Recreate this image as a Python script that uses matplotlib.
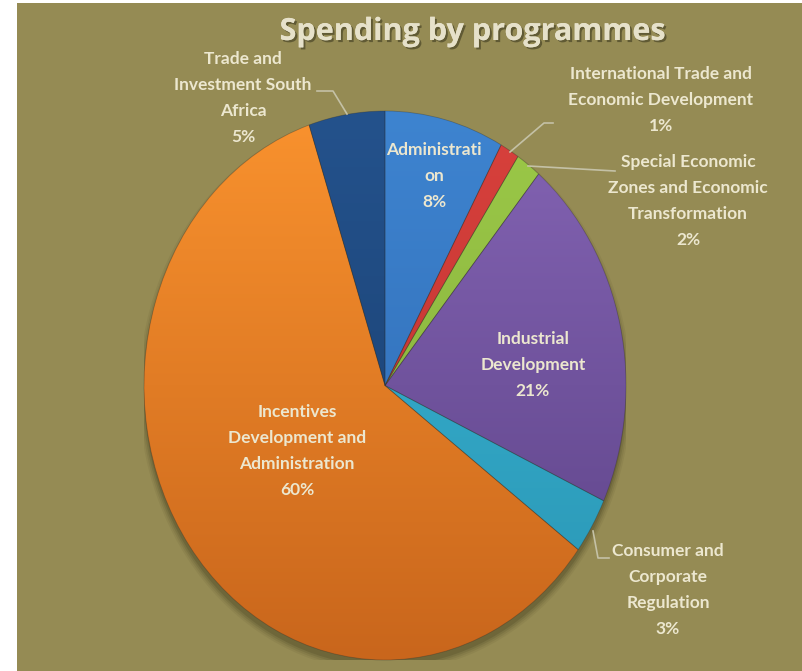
import numpy as np
import matplotlib.pyplot as plt
from matplotlib.patches import Ellipse
from matplotlib.colors import to_rgb
import matplotlib.patheffects as pe

plt.rcParams['font.family'] = ['Lato', 'DejaVu Sans']

# data
programmes = ['Administrati\non', 'International Trade and\nEconomic Development',
              'Special Economic\nZones and Economic\nTransformation',
              'Industrial\nDevelopment', 'Consumer and\nCorporate\nRegulation',
              'Incentives\nDevelopment and\nAdministration',
              'Trade and\nInvestment South\nAfrica']
shares = [8.0, 1.3, 1.7, 20.9, 3.3, 59.7, 5.1]
top_cols = ['#3E84D0', '#D8413C', '#9CC948', '#8464B4', '#3AB6D6', '#F9922E', '#24528C']
bot_cols = ['#2D68B0', '#B83030', '#80A93A', '#5C4286', '#2A96B4', '#C9661C', '#183E6E']

bg = '#958B54'
txt = '#ECE7CF'

W, H = 802, 671
fig = plt.figure(figsize=(W/100, H/100), dpi=100, facecolor='white')

# olive panel
bgax = fig.add_axes([17/W, 0, 1 - 17/W, 668/H], zorder=-5)
bgax.set_facecolor(bg)
bgax.set_xticks([]); bgax.set_yticks([])
for s in bgax.spines.values():
    s.set_visible(False)

# pie box in pixels: x 144..626, y 111..660
ax = fig.add_axes([144/W, (H-660)/H, 482/W, 549/H])
ax.patch.set_visible(False)

# shadow
for k, a in enumerate([0.08, 0.10, 0.14, 0.2]):
    ax.add_patch(Ellipse((0, -0.022), 2.0 + 0.014*(3-k), 2.0 + 0.014*(3-k),
                         facecolor='#3E3818', edgecolor='none', alpha=a, zorder=0))

wedges, _ = ax.pie(shares, startangle=90, counterclock=False, radius=1,
                   wedgeprops=dict(edgecolor='none'))

yy = np.linspace(1, 0, 256)[:, None]
for w, c1, c2 in zip(wedges, top_cols, bot_cols):
    c1 = np.array(to_rgb(c1)); c2 = np.array(to_rgb(c2))
    grad = (c1[None, None, :] * yy[..., None] + c2[None, None, :] * (1 - yy[..., None]))
    grad = np.repeat(grad, 4, axis=1)
    w.set_facecolor(c2)
    im = ax.imshow(grad, extent=[-1, 1, -1, 1], aspect='auto', zorder=2,
                   interpolation='bilinear')
    im.set_clip_path(w)
ax.set_aspect('auto')
ax.set_xlim(-1, 1)
ax.set_ylim(-1, 1)
ax.axis('off')

# thin separators between slices
for w in wedges:
    w.set_edgecolor((0.15, 0.15, 0.15, 0.3))
    w.set_linewidth(0.6)
    w.set_zorder(3)
    w.set_facecolor('none')


def fx(x):
    return x / W


def fy(y):
    return 1 - y / H


labels = ['%s\n%d%%' % (p, round(v)) for p, v in zip(programmes, shares)]
# label centres in pixels
label_pos = [(434, 176), (661, 100), (688, 201), (533, 365), (668, 590), (297, 451), (243, 98)]
for lab, (x, y) in zip(labels, label_pos):
    fig.text(fx(x), fy(y), lab, ha='center', va='center', color=txt, fontsize=12.5,
             fontweight='bold', linespacing=1.75)

# leader lines
leaders = [
    [(510, 152), (544, 123), (553, 123)],
    [(528, 166), (615, 171)],
    [(593, 531), (598, 558), (609, 558)],
    [(347, 114), (333, 91), (317, 91)],
]
for pts in leaders:
    xs = [fx(p[0]) for p in pts]
    ys = [fy(p[1]) for p in pts]
    fig.add_artist(plt.Line2D(xs, ys, color='#C4C1A6', lw=1.2, transform=fig.transFigure))

fig.text(fx(472), fy(32), 'Spending by programmes', ha='center', va='center', color='#E6E1CA',
         fontsize=22, fontweight='bold', family=['Open Sans', 'DejaVu Sans'],
         path_effects=[pe.withSimplePatchShadow(offset=(1.5, -1.5), shadow_rgbFace='#3E3A20', alpha=0.6),
                       pe.Normal()])

fig.savefig('out.png', dpi=100, facecolor='white')
